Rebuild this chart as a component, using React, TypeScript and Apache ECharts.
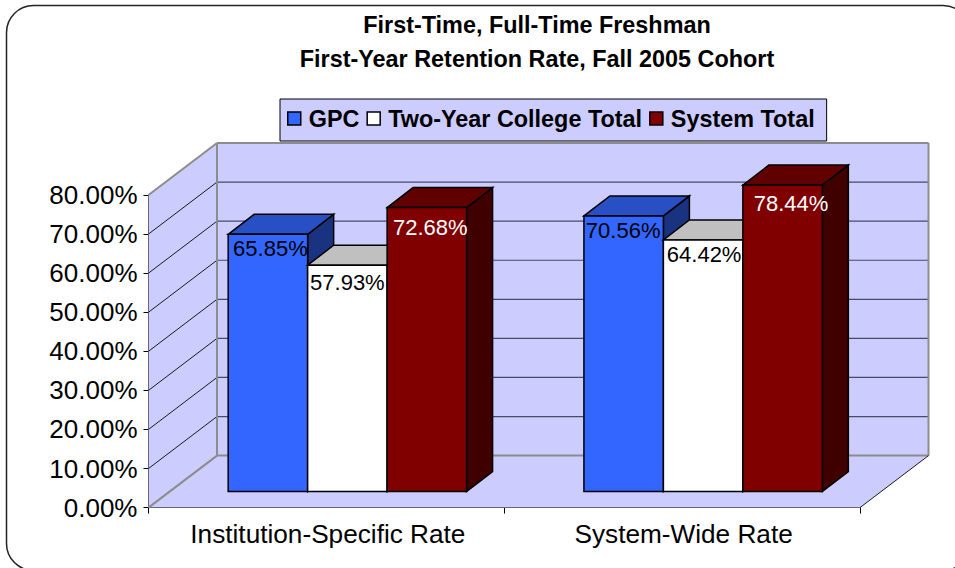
import React, { useEffect, useRef } from "react";
import * as echarts from "echarts";

const titleLines = ["First-Time, Full-Time Freshman", "First-Year Retention Rate, Fall 2005 Cohort"];
const categories = ["Institution-Specific Rate", "System-Wide Rate"];
const seriesNames = ["GPC", "Two-Year College Total", "System Total"];
const gpcValues = [65.85, 70.56];
const twoYearValues = [57.93, 64.42];
const systemValues = [72.68, 78.44];
const yTicks = [0, 10, 20, 30, 40, 50, 60, 70, 80];

const FONT = '"Liberation Sans", Arial, sans-serif';
const WALL_DX = 68.5, WALL_DY = -52;      // full floor depth
const BAR_SHIFT_X = 21, BAR_SHIFT_Y = -16; // bar front plane inside the floor
const BAR_DX = 26, BAR_DY = -20;           // bar depth
const BAR_FRACTION = 238.4 / 355.75;       // cluster width / band width

const palettes = [
  { front: "#3366ff", top: "#2850c4", side: "#1a3380", text: "#000000" },
  { front: "#ffffff", top: "#c0c0c0", side: "#808080", text: "#000000" },
  { front: "#800000", top: "#600000", side: "#400000", text: "#ffffff" },
];
// per-label nudge from the top-centre of the bar front, [series][category]
const labelNudges = [
  [[2.5, 14.5], [-0.5, 14.5]],
  [[0, 17], [1, 15]],
  [[3.5, 20], [8.5, 18.5]],
];

const poly = (points: number[][], fill: string, stroke?: string, lineWidth = 1.5) => ({
  type: "polygon",
  shape: { points },
  style: { fill, stroke: stroke ?? "none", lineWidth, lineJoin: "miter" },
});
const seg = (a: number[], b: number[], stroke: string, lineWidth: number) => ({
  type: "line",
  shape: { x1: a[0], y1: a[1], x2: b[0], y2: b[1] },
  style: { stroke, lineWidth, fill: "none" },
});

function wallItem(_: any, api: any) {
  const band = api.size([1, 0])[0];
  const left = api.coord([0, 0])[0] - band / 2;
  const right = left + band * categories.length;
  const y0 = api.coord([0, 0])[1];
  const yTop = api.coord([0, yTicks[yTicks.length - 1]])[1];
  const wallFill = "#ccccff";
  const gray = "#8c8c8c";
  const children: any[] = [
    poly([[left + WALL_DX, yTop + WALL_DY], [right + WALL_DX, yTop + WALL_DY], [right + WALL_DX, y0 + WALL_DY], [left + WALL_DX, y0 + WALL_DY]], wallFill),
    poly([[left, yTop], [left + WALL_DX, yTop + WALL_DY], [left + WALL_DX, y0 + WALL_DY], [left, y0]], wallFill),
    poly([[left, y0], [right, y0], [right + WALL_DX, y0 + WALL_DY], [left + WALL_DX, y0 + WALL_DY]], wallFill),
  ];
  yTicks.slice(1, -1).forEach((t) => {
    const y = api.coord([0, t])[1];
    children.push(seg([left, y], [left + WALL_DX, y + WALL_DY], "#1a1a1a", 1));
    children.push(seg([left + WALL_DX, y + WALL_DY], [right + WALL_DX, y + WALL_DY], "#4a4a62", 1.2));
  });
  children.push(seg([left, yTop], [left + WALL_DX, yTop + WALL_DY], gray, 2));
  children.push(seg([left, y0], [left + WALL_DX, y0 + WALL_DY], gray, 2));
  children.push(seg([left + WALL_DX, yTop + WALL_DY], [right + WALL_DX, yTop + WALL_DY], gray, 2));
  children.push(seg([left + WALL_DX, yTop + WALL_DY], [left + WALL_DX, y0 + WALL_DY], gray, 2));
  children.push(seg([right + WALL_DX, yTop + WALL_DY], [right + WALL_DX, y0 + WALL_DY], gray, 2));
  children.push(seg([left + WALL_DX, y0 + WALL_DY], [right + WALL_DX, y0 + WALL_DY], gray, 2));
  children.push(seg([right, y0], [right + WALL_DX, y0 + WALL_DY], "#1a1a1a", 1));
  return { type: "group", children };
}

const barItem = (sIdx: number) => (params: any, api: any) => {
  const cat = api.value(0);
  const val = api.value(1);
  const pal = palettes[sIdx];
  const band = api.size([1, 0])[0];
  const w = (band * BAR_FRACTION) / 3;
  const cx = api.coord([cat, 0])[0] + BAR_SHIFT_X;
  const x0 = cx - 1.5 * w + sIdx * w;
  const x1 = x0 + w;
  const yb = api.coord([cat, 0])[1] + BAR_SHIFT_Y;
  const yt = api.coord([cat, val])[1] + BAR_SHIFT_Y;
  const nudge = labelNudges[sIdx][params.dataIndex];
  return {
    type: "group",
    children: [
      poly([[x1, yt], [x1 + BAR_DX, yt + BAR_DY], [x1 + BAR_DX, yb + BAR_DY], [x1, yb]], pal.side, "#000"),
      poly([[x0, yt], [x0 + BAR_DX, yt + BAR_DY], [x1 + BAR_DX, yt + BAR_DY], [x1, yt]], pal.top, "#000"),
      poly([[x0, yt], [x1, yt], [x1, yb], [x0, yb]], pal.front, "#000"),
      {
        type: "text",
        x: (x0 + x1) / 2 + nudge[0],
        y: yt + nudge[1],
        z2: 10,
        style: {
          text: val.toFixed(2) + "%",
          fill: pal.text,
          font: `22px ${FONT}`,
          align: "center",
          verticalAlign: "middle",
        },
      },
    ],
  };
};

export default function App() {
  const ref = useRef<HTMLDivElement>(null);
  useEffect(() => {
    document.body.style.margin = "0";
    const chart = echarts.init(ref.current!, undefined, { renderer: "svg" });
    const allValues = [gpcValues, twoYearValues, systemValues];
    chart.setOption({
      animation: false,
      backgroundColor: "#ffffff",
      color: palettes.map((p) => p.front),
      title: {
        text: titleLines.join("\n"),
        left: 532,
        top: 3,
        textAlign: "center",
        textStyle: { fontFamily: FONT, fontSize: 23.4, fontWeight: "bold", lineHeight: 34, color: "#000" },
      },
      legend: {
        data: seriesNames,
        left: 280,
        top: 99,
        width: 560,
        orient: "horizontal",
        padding: [8, 12, 11, 7],
        itemGap: 7,
        itemWidth: 13,
        itemHeight: 13,
        icon: "rect",
        backgroundColor: "#ccccff",
        borderColor: "#000",
        borderWidth: 1,
        itemStyle: { borderColor: "#000", borderWidth: 1.5 },
        textStyle: { fontFamily: FONT, fontSize: 23.4, fontWeight: "bold", color: "#000", padding: [0, 0, 4, 3] },
      },
      grid: { left: 148.5, top: 195, width: 711.5, height: 312.6, containLabel: false },
      xAxis: {
        type: "category",
        data: categories,
        boundaryGap: true,
        axisLine: { lineStyle: { color: "#000", width: 1 } },
        axisTick: { show: true, length: 6, interval: 0, lineStyle: { color: "#000" }, alignWithLabel: false },
        axisLabel: { fontFamily: FONT, fontSize: 26.2, color: "#000", margin: 13, interval: 0, hideOverlap: false, padding: [0, 0, 0, 3] },
        splitLine: { show: false },
      },
      yAxis: {
        type: "value",
        min: 0,
        max: 80,
        interval: 10,
        axisLine: { show: true, lineStyle: { color: "#000", width: 1 } },
        axisTick: { show: true, length: 5, lineStyle: { color: "#000" } },
        axisLabel: {
          fontFamily: FONT,
          fontSize: 26,
          color: "#000",
          margin: 11,
          formatter: (v: number) => v.toFixed(2) + "%",
        },
        splitLine: { show: false },
      },
      graphic: [
        {
          type: "rect",
          shape: { x: 6.5, y: 5.5, width: 963.5, height: 565, r: 27 },
          style: { fill: "none", stroke: "#222", lineWidth: 1.5 },
          silent: true,
          z: 100,
        },
      ],
      series: [
        {
          type: "custom",
          name: "wall",
          renderItem: wallItem,
          data: [[0, 0]],
          encode: { x: 0, y: 1 },
          z: 1,
          silent: true,
          clip: false,
        },
        ...seriesNames.map((name, s) => ({
          type: "custom",
          name,
          renderItem: barItem(s),
          data: categories.map((_, c) => [c, allValues[s][c]]),
          encode: { x: 0, y: 1 },
          itemStyle: { color: palettes[s].front },
          z: 2,
          clip: false,
        })),
      ],
    });
    return () => chart.dispose();
  }, []);
  return <div ref={ref} style={{ width: 955, height: 568 }} />;
}
